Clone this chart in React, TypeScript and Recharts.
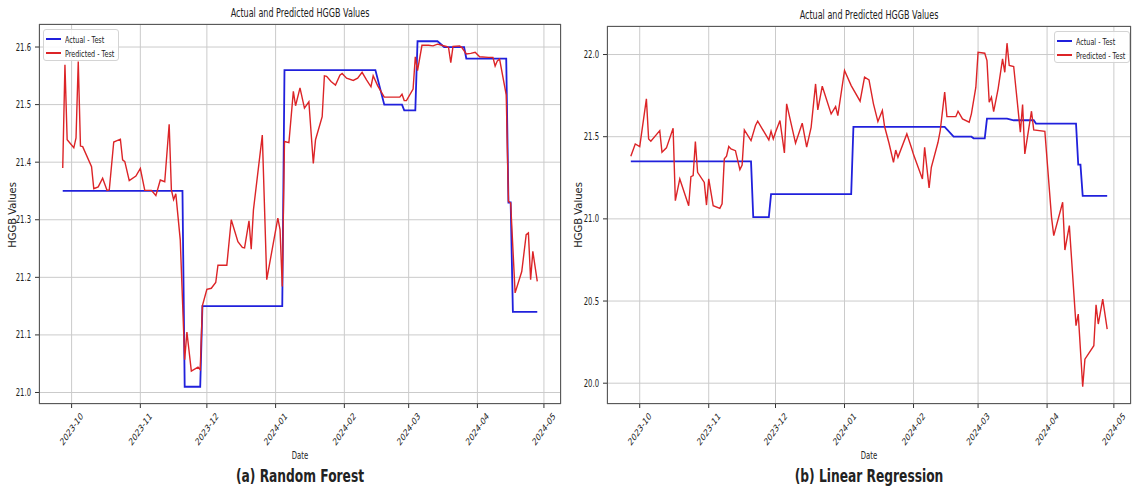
import React from 'react'
import { LineChart, Line, XAxis, YAxis, CartesianGrid } from 'recharts'

// actual HGGB values (same in both panels)
const actualDates = [
  '2023-09-27', '2023-11-20', '2023-11-21', '2023-11-28', '2023-11-29', '2024-01-04', '2024-01-05',
  '2024-02-15', '2024-02-19', '2024-02-27', '2024-02-28', '2024-03-04', '2024-03-05', '2024-03-14',
  '2024-03-17', '2024-03-26', '2024-03-27', '2024-04-14', '2024-04-15', '2024-04-16', '2024-04-17', '2024-04-28',
]
const actualValues = [
  21.35, 21.35, 21.01, 21.01, 21.15, 21.15, 21.56,
  21.56, 21.5, 21.5, 21.49, 21.49, 21.61, 21.61,
  21.6, 21.6, 21.58, 21.58, 21.33, 21.33, 21.14, 21.14,
]

// random forest predictions
const rfDates = [
  '2023-09-27', '2023-09-28', '2023-09-29', '2023-10-02', '2023-10-03', '2023-10-04', '2023-10-05', '2023-10-06',
  '2023-10-10', '2023-10-11', '2023-10-13', '2023-10-15', '2023-10-17', '2023-10-18', '2023-10-20', '2023-10-23',
  '2023-10-24', '2023-10-25', '2023-10-27', '2023-10-30', '2023-11-01', '2023-11-03', '2023-11-06', '2023-11-08',
  '2023-11-10', '2023-11-12', '2023-11-14', '2023-11-15', '2023-11-16', '2023-11-17', '2023-11-19', '2023-11-21',
  '2023-11-22', '2023-11-24', '2023-11-27', '2023-11-28', '2023-11-29', '2023-12-01', '2023-12-03', '2023-12-05',
  '2023-12-06', '2023-12-10', '2023-12-12', '2023-12-15', '2023-12-17', '2023-12-18', '2023-12-20', '2023-12-21',
  '2023-12-22', '2023-12-26', '2023-12-28', '2024-01-02', '2024-01-03', '2024-01-04', '2024-01-05', '2024-01-07',
  '2024-01-09', '2024-01-10', '2024-01-12', '2024-01-14', '2024-01-16', '2024-01-18', '2024-01-19', '2024-01-22',
  '2024-01-23', '2024-01-24', '2024-01-26', '2024-01-28', '2024-01-30', '2024-01-31', '2024-02-02', '2024-02-05',
  '2024-02-07', '2024-02-09', '2024-02-11', '2024-02-13', '2024-02-14', '2024-02-16', '2024-02-19', '2024-02-22',
  '2024-02-26', '2024-02-27', '2024-02-28', '2024-02-29', '2024-03-03', '2024-03-04', '2024-03-05', '2024-03-07',
  '2024-03-10', '2024-03-12', '2024-03-14', '2024-03-18', '2024-03-19', '2024-03-20', '2024-03-21', '2024-03-24',
  '2024-03-25', '2024-03-27', '2024-03-29', '2024-03-31', '2024-04-02', '2024-04-06', '2024-04-08', '2024-04-09',
  '2024-04-10', '2024-04-11', '2024-04-14', '2024-04-15', '2024-04-16', '2024-04-18', '2024-04-21', '2024-04-23',
  '2024-04-24', '2024-04-25', '2024-04-26', '2024-04-28',
]
const rfValues = [
  21.39, 21.569, 21.439, 21.425, 21.442, 21.575, 21.428, 21.427,
  21.392, 21.354, 21.357, 21.372, 21.351, 21.352, 21.435, 21.44,
  21.404, 21.401, 21.368, 21.376, 21.389, 21.351, 21.351, 21.342,
  21.369, 21.366, 21.466, 21.352, 21.335, 21.345, 21.265, 21.057,
  21.105, 21.037, 21.044, 21.04, 21.151, 21.179, 21.181, 21.191,
  21.221, 21.221, 21.3, 21.262, 21.252, 21.251, 21.298, 21.249,
  21.317, 21.447, 21.196, 21.303, 21.283, 21.184, 21.436, 21.434,
  21.523, 21.498, 21.529, 21.494, 21.505, 21.398, 21.439, 21.479,
  21.55, 21.549, 21.54, 21.534, 21.551, 21.554, 21.546, 21.542,
  21.546, 21.556, 21.543, 21.531, 21.55, 21.533, 21.513, 21.513,
  21.513, 21.518, 21.507, 21.507, 21.527, 21.583, 21.559, 21.603,
  21.603, 21.602, 21.605, 21.601, 21.599, 21.573, 21.601, 21.602,
  21.599, 21.588, 21.589, 21.591, 21.583, 21.582, 21.582, 21.567,
  21.576, 21.579, 21.517, 21.332, 21.329, 21.173, 21.21, 21.274,
  21.277, 21.196, 21.245, 21.193,
]

// linear regression predictions
const lrDates = [
  '2023-09-27', '2023-09-29', '2023-10-01', '2023-10-04', '2023-10-05', '2023-10-06', '2023-10-10', '2023-10-11',
  '2023-10-13', '2023-10-16', '2023-10-17', '2023-10-19', '2023-10-23', '2023-10-24', '2023-10-25', '2023-10-26',
  '2023-10-27', '2023-10-30', '2023-10-31', '2023-11-01', '2023-11-03', '2023-11-06', '2023-11-07', '2023-11-08',
  '2023-11-09', '2023-11-10', '2023-11-11', '2023-11-13', '2023-11-15', '2023-11-16', '2023-11-17', '2023-11-20',
  '2023-11-22', '2023-11-23', '2023-11-28', '2023-11-29', '2023-11-30', '2023-12-01', '2023-12-03', '2023-12-05',
  '2023-12-06', '2023-12-10', '2023-12-13', '2023-12-15', '2023-12-17', '2023-12-19', '2023-12-20', '2023-12-22',
  '2023-12-26', '2023-12-28', '2023-12-29', '2024-01-01', '2024-01-04', '2024-01-08', '2024-01-10', '2024-01-12',
  '2024-01-14', '2024-01-16', '2024-01-18', '2024-01-19', '2024-01-21', '2024-01-23', '2024-01-24', '2024-01-25',
  '2024-01-29', '2024-01-31', '2024-02-01', '2024-02-05', '2024-02-06', '2024-02-08', '2024-02-09', '2024-02-12',
  '2024-02-13', '2024-02-15', '2024-02-16', '2024-02-20', '2024-02-21', '2024-02-23', '2024-02-26', '2024-02-27',
  '2024-02-29', '2024-03-01', '2024-03-04', '2024-03-05', '2024-03-06', '2024-03-07', '2024-03-08', '2024-03-10',
  '2024-03-12', '2024-03-13', '2024-03-14', '2024-03-15', '2024-03-17', '2024-03-20', '2024-03-21', '2024-03-22',
  '2024-03-25', '2024-03-26', '2024-03-31', '2024-04-03', '2024-04-04', '2024-04-08', '2024-04-09', '2024-04-11',
  '2024-04-14', '2024-04-15', '2024-04-17', '2024-04-18', '2024-04-22', '2024-04-23', '2024-04-24', '2024-04-26',
  '2024-04-28',
]
const lrValues = [
  21.381, 21.456, 21.44, 21.73, 21.486, 21.472, 21.537, 21.405,
  21.432, 21.551, 21.111, 21.243, 21.08, 21.257, 21.263, 21.47,
  21.283, 21.222, 21.084, 21.243, 21.08, 21.064, 21.091, 21.365,
  21.381, 21.44, 21.425, 21.415, 21.3, 21.328, 21.541, 21.476,
  21.568, 21.594, 21.48, 21.533, 21.486, 21.527, 21.598, 21.401,
  21.7, 21.46, 21.582, 21.436, 21.557, 21.821, 21.663, 21.807,
  21.639, 21.683, 21.628, 21.903, 21.811, 21.716, 21.862, 21.846,
  21.7, 21.592, 21.659, 21.562, 21.46, 21.344, 21.419, 21.375,
  21.517, 21.436, 21.391, 21.243, 21.436, 21.188, 21.314, 21.466,
  21.537, 21.771, 21.622, 21.622, 21.655, 21.608, 21.588, 21.639,
  21.801, 22.014, 22.008, 21.963, 21.71, 21.74, 21.653, 21.791,
  21.974, 21.892, 22.069, 21.933, 21.927, 21.527, 21.695, 21.395,
  21.655, 21.541, 21.533, 21.009, 20.898, 21.101, 20.81, 20.959,
  20.35, 20.421, 19.978, 20.146, 20.228, 20.477, 20.36, 20.512,
  20.329,
]

const monthTicks = ['2023-10-01', '2023-11-01', '2023-12-01', '2024-01-01', '2024-02-01', '2024-03-01', '2024-04-01', '2024-05-01']
const rfYTicks = [21.0, 21.1, 21.2, 21.3, 21.4, 21.5, 21.6]
const lrYTicks = [20.0, 20.5, 21.0, 21.5, 22.0]

const SQ = 0.7 // the figure is squeezed sideways
const FONT = 'DejaVu Sans'
const BLUE = '#2020dc'
const RED = '#dc2427'

const ts = (s: string) => Date.UTC(+s.slice(0, 4), +s.slice(5, 7) - 1, +s.slice(8, 10))
const rows = (dates: string[], vals: number[]) => dates.map((d, i) => ({ t: ts(d), v: vals[i] }))
const pad = (lo: number, hi: number) => [lo - (hi - lo) * 0.05, hi + (hi - lo) * 0.05]
const fmtMonth = (v: number) => {
  const d = new Date(v)
  return `${d.getUTCFullYear()}-${String(d.getUTCMonth() + 1).padStart(2, '0')}`
}

const actualRows = rows(actualDates, actualValues)
const xDomain = pad(ts(actualDates[0]), ts(actualDates[actualDates.length - 1]))

const YTick = ({ x, y, payload }: any) => (
  <text x={0} y={0} transform={`translate(${x},${y}) scale(${SQ},1)`} textAnchor='end'
    dominantBaseline='central' fontSize={9.8} fill='#222' fontFamily={FONT}>
    {Number(payload.value).toFixed(1)}
  </text>
)

const XTick = ({ x, y, payload }: any) => (
  <text x={0} y={0} transform={`translate(${x},${y + 19}) scale(${SQ},1) rotate(-45)`} textAnchor='middle'
    dominantBaseline='central' fontSize={10} fill='#222' fontFamily={FONT}>
    {fmtMonth(payload.value)}
  </text>
)

function Txt({ x, y, size, children, bold, rotate }: any) {
  return (
    <div style={{ position: 'absolute', left: x, top: y, whiteSpace: 'nowrap', fontFamily: FONT,
      fontSize: size, lineHeight: 1, color: '#222', fontWeight: bold ? 'bold' : 'normal',
      transform: rotate ? 'translate(-50%,-50%) rotate(-90deg)' : `translate(-50%,-50%) scaleX(${SQ})` }}>
      {children}
    </div>
  )
}

function Legend({ x, y }: { x: number, y: number }) {
  const item = (c: string, label: string) => (
    <div style={{ display: 'flex', alignItems: 'center', height: 14, width: 200 }}>
      <div style={{ flexShrink: 0, width: 15, height: 2, background: c, marginLeft: 2, marginRight: 4 }} />
      <span style={{ fontFamily: FONT, fontSize: 9.2, color: '#222', display: 'inline-block',
        transform: `scaleX(${SQ})`, transformOrigin: 'left center', whiteSpace: 'nowrap' }}>{label}</span>
    </div>
  )
  return (
    <div style={{ position: 'absolute', left: x, top: y, width: 76, height: 32, boxSizing: 'border-box',
      border: '1px solid #d4d4d4', borderRadius: 3, background: 'rgba(255,255,255,0.85)', paddingTop: 2,
      overflow: 'hidden' }}>
      {item(BLUE, 'Actual - Test')}
      {item(RED, 'Predicted - Test')}
    </div>
  )
}

function Panel({ left, width, top, axisW, right, pred, yTicks, caption, legendX }: any) {
  const predRows = rows(pred.dates, pred.values)
  const all = [...pred.values, ...actualValues]
  const yDomain = pad(Math.min(...all), Math.max(...all))
  const plotL = left + axisW
  const plotR = left + width - right
  const cx = (plotL + plotR) / 2
  return (
    <>
      <div style={{ position: 'absolute', left, top: 0 }}>
        <LineChart width={width} height={460} margin={{ top, right, bottom: 0, left: 0 }}>
          <CartesianGrid stroke='#cbcbcb' strokeWidth={1} />
          <XAxis type='number' dataKey='t' domain={xDomain} allowDataOverflow
            ticks={monthTicks.map(ts)} interval={0} height={56} tick={<XTick />}
            tickSize={4} tickLine={{ stroke: '#333' }} axisLine={false} />
          <YAxis type='number' dataKey='v' domain={yDomain} allowDataOverflow ticks={yTicks}
            interval={0} width={axisW} tick={<YTick />} tickSize={4} tickMargin={4}
            tickLine={{ stroke: '#333' }} axisLine={false} />
          <Line data={actualRows} dataKey='v' stroke={BLUE} strokeWidth={1.8} dot={false}
            isAnimationActive={false} />
          <Line data={predRows} dataKey='v' stroke={RED} strokeWidth={1.4} dot={false}
            isAnimationActive={false} />
        </LineChart>
      </div>
      <div style={{ position: 'absolute', left: plotL, top, width: plotR - plotL, height: 404 - top,
        boxSizing: 'border-box', border: '1.2px solid #5a5a5a', pointerEvents: 'none' }} />
      <Txt x={cx} y={top - 10} size={11.5}>Actual and Predicted HGGB Values</Txt>
      <Txt x={left + 13} y={215} size={10} rotate>HGGB Values</Txt>
      <Txt x={cx} y={456} size={9.8}>Date</Txt>
      <Txt x={cx} y={477} size={17.5} bold>{caption}</Txt>
      <Legend x={legendX} y={top + 5} />
    </>
  )
}

export default function App() {
  return (
    <div style={{ position: 'absolute', left: 0, top: 0, width: 1133, height: 489, background: 'white', overflow: 'hidden' }}>
      <Panel left={0} width={566} top={24} axisW={39} right={5}
        pred={{ dates: rfDates, values: rfValues }} yTicks={rfYTicks}
        caption='(a) Random Forest' legendX={43} />
      <Panel left={566} width={567} top={26} axisW={41} right={2}
        pred={{ dates: lrDates, values: lrValues }} yTicks={lrYTicks}
        caption='(b) Linear Regression' legendX={1054} />
    </div>
  )
}
